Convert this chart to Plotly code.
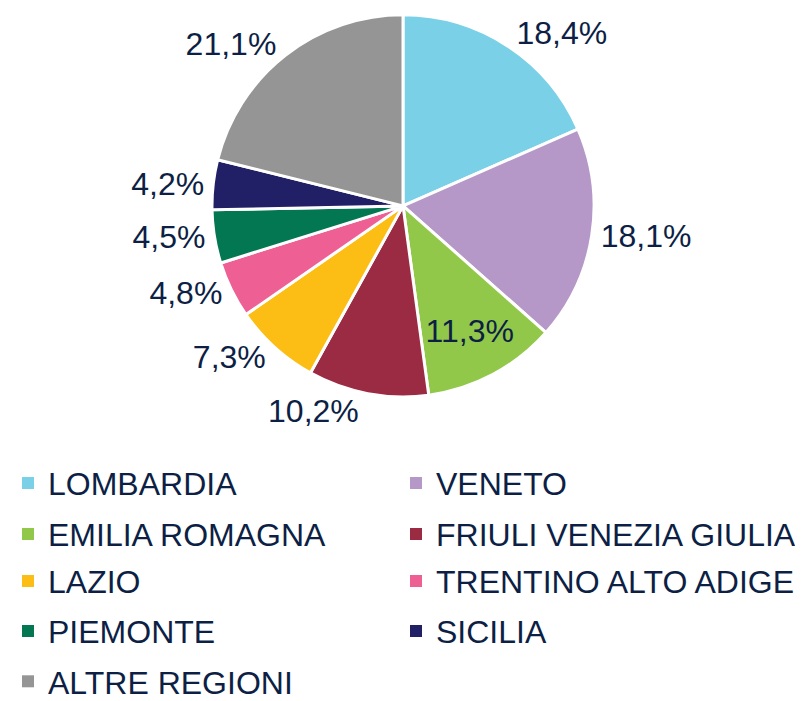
import plotly.graph_objects as go

regions = ["LOMBARDIA", "VENETO", "EMILIA ROMAGNA", "FRIULI VENEZIA GIULIA", "LAZIO",
           "TRENTINO ALTO ADIGE", "PIEMONTE", "SICILIA", "ALTRE REGIONI"]
shares = [18.4, 18.1, 11.3, 10.2, 7.3, 4.8, 4.5, 4.2, 21.1]
colors = ["#7AD0E6", "#B598C8", "#92C84A", "#9B2A43", "#FCBE14",
          "#EE6093", "#037752", "#212067", "#959595"]
label_pos = ["outside", "outside", "inside", "outside", "outside",
             "outside", "outside", "outside", "outside"]

texts = [f"{v:.1f}%".replace(".", ",") for v in shares]
W, H = 803, 701
MB = 260            # bottom margin: legends live below the plot area
PH = H - MB         # plot area height
FONT = "Liberation Sans, Arial"
TXT = "#0D1F45"


def fy(py):
    """pixel-from-top -> plot-area fraction"""
    return (PH - py) / PH


fig = go.Figure()
fig.add_trace(go.Pie(
    labels=regions, values=shares, text=texts, textinfo="text",
    textposition=label_pos, sort=False, direction="clockwise", rotation=0,
    marker=dict(colors=colors, line=dict(color="white", width=3)),
    textfont=dict(size=32, color=TXT, family=FONT),
    insidetextorientation="horizontal",
    domain=dict(x=[200 / W, 590 / W], y=[fy(397), fy(7)]),
    hoverinfo="label+percent", showlegend=False,
))

# legend: one legend per entry, laid out in two columns
row_centers = [485, 537, 585, 636, 688]
col_x = [0, 388 / W]
legend_layout = {}
for i, (name, col) in enumerate(zip(regions, colors)):
    row, column = divmod(i, 2)
    lname = "legend" if i == 0 else f"legend{i + 1}"
    fig.add_trace(go.Scatter(
        x=[None], y=[None], mode="markers", name=name,
        marker=dict(symbol="square", size=12, color=col),
        legend=lname, showlegend=True, hoverinfo="skip",
    ))
    legend_layout[lname] = dict(
        orientation="h", x=col_x[column], y=fy(row_centers[row] - 28),
        xanchor="left", yanchor="top",
        font=dict(size=32, color=TXT, family=FONT),
        bgcolor="rgba(0,0,0,0)",
    )

fig.update_layout(
    width=W, height=H, margin=dict(l=0, r=0, t=0, b=MB),
    paper_bgcolor="white", plot_bgcolor="white",
    font=dict(family=FONT, color=TXT),
    xaxis=dict(visible=False), yaxis=dict(visible=False),
    **legend_layout,
)
fig.write_html("out.html")
